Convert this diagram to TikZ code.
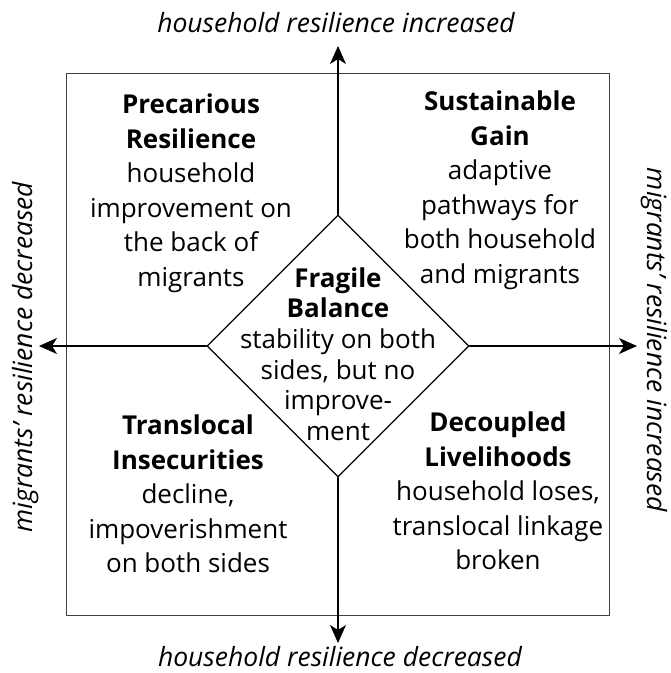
\documentclass[tikz,border=0pt]{standalone}
\usepackage{fontspec}
\setmainfont{Open Sans}
\usetikzlibrary{arrows.meta,shapes.geometric}
\begin{document}
\begin{tikzpicture}[x=1pt,y=-1pt,>={Stealth[length=18pt,width=16pt,inset=5pt]}, line join=round, line cap=round,
    quad/.style={align=center, inner sep=0pt, font=\fontsize{26}{34.5}\selectfont},
    axlab/.style={inner sep=0pt, anchor=base, font=\fontsize{26.5}{30}\selectfont\itshape},
    axis/.style={->, line width=1.4pt}]
    \def\cx{338} \def\cy{346} % centre
    \useasboundingbox (0,0) rectangle (671,673);
    
    \draw[black!75, line width=1pt] (66,73) rectangle (609,615);
    
    \node[diamond, draw, line width=1.3pt, minimum width=262pt, minimum height=262pt, inner sep=0pt] (bal) at (\cx,\cy) {};
    
    \coordinate (up) at (\cx,46);
    \coordinate (down) at (\cx,643);
    \coordinate (lft) at (39,\cy);
    \coordinate (rgt) at (637,\cy);
    \draw[axis] (bal.north) -- (up);
    \draw[axis] (bal.south) -- (down);
    \draw[axis] (bal.west) -- (lft);
    \draw[axis] (bal.east) -- (rgt);
    
    \node[axlab] (hinc) at (336,32) {household resilience increased};
    \node[axlab] (hdec) at (340,666) {household resilience decreased};
    \node[axlab, rotate=90] (mdec) at (32,357) {migrants’ resilience decreased};
    \node[axlab, rotate=-90] (minc) at (647,340) {migrants’ resilience increased};
    
    \node[quad] (prec) at (191,193) {\textbf{Precarious}\\\textbf{Resilience}\\household\\improvement on\\the back of\\migrants};
    \node[quad] (gain) at (500,190) {\textbf{Sustainable}\\\textbf{Gain}\\adaptive\\pathways for\\both household\\and migrants};
    \node[quad] (insec) at (188,494) {\textbf{Translocal}\\\textbf{Insecurities}\\decline,\\impoverishment\\on both sides};
    \node[quad] (decoup) at (498,491) {\textbf{Decoupled}\\\textbf{Livelihoods}\\household loses,\\translocal linkage\\broken};
    \node[quad, font=\fontsize{26}{30.6}\selectfont] (fragile) at (\cx,354) {\textbf{Fragile}\\\textbf{Balance}\\stability on both\\sides, but no\\improve-\\ment};
\end{tikzpicture}
\end{document}
